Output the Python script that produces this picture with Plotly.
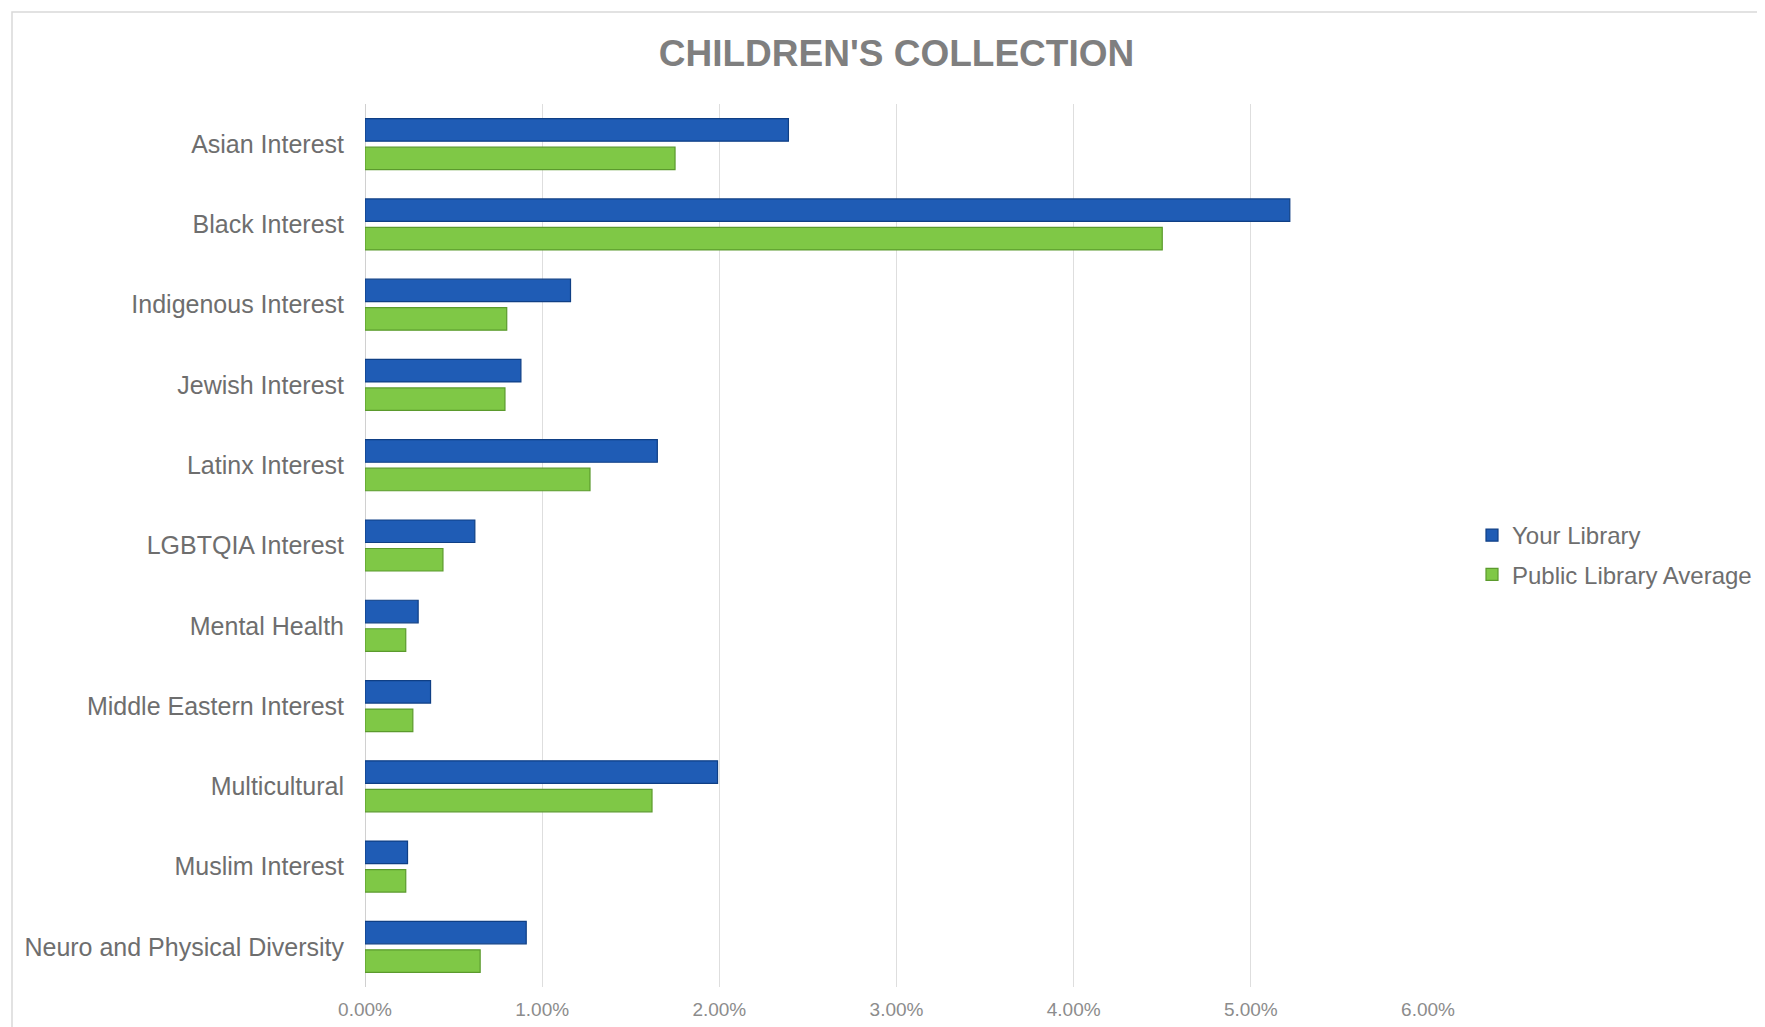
import plotly.graph_objects as go

categories = [
    "Asian Interest", "Black Interest", "Indigenous Interest", "Jewish Interest",
    "Latinx Interest", "LGBTQIA Interest", "Mental Health", "Middle Eastern Interest",
    "Multicultural", "Muslim Interest", "Neuro and Physical Diversity",
]
your_library = [0.0239, 0.0522, 0.0116, 0.0088, 0.0165, 0.0062, 0.0030, 0.0037, 0.0199, 0.0024, 0.0091]
public_average = [0.0175, 0.0450, 0.0080, 0.0079, 0.0127, 0.0044, 0.0023, 0.0027, 0.0162, 0.0023, 0.0065]
x_ticks = [0, 0.01, 0.02, 0.03, 0.04, 0.05, 0.06]
x_tick_labels = ["0.00%", "1.00%", "2.00%", "3.00%", "4.00%", "5.00%", "6.00%"]

# page body has an 8px default margin; work in page pixels and offset
OFF = 8
W, H = 1765 - OFF, 1027 - OFF
L, R, T, B = 365 - OFF, 1428 - OFF, 104 - OFF, 987 - OFF

fig = go.Figure()
fig.add_trace(go.Bar(
    y=categories, x=your_library, orientation="h", name="Your Library",
    marker=dict(color="#1f5cb5", line=dict(color="#0f3f85", width=1.2)),
    legendgroup="a",
))
fig.add_trace(go.Bar(
    y=categories, x=public_average, orientation="h", name="Public Library Average",
    marker=dict(color="#7fc846", line=dict(color="#5b9a2d", width=1.2)),
    legendgroup="b",
))

fig.update_layout(
    width=W, height=H,
    margin=dict(l=L, r=W - R, t=T, b=H - B, autoexpand=False),
    paper_bgcolor="white", plot_bgcolor="white",
    barmode="group", bargap=0.29, bargroupgap=0.21,
    font=dict(family="Liberation Sans, Arial, sans-serif", color="#6e6e6e"),
    title=dict(
        text="<b>CHILDREN'S COLLECTION</b>", x=(L + R) / 2 / W, xanchor="center",
        y=1 - (53 - OFF) / H, yanchor="middle",
        font=dict(family="Liberation Sans, Arial, sans-serif", size=37, color="#7f7f7f"),
    ),
    legend=dict(
        x=(1472 - OFF - L) / (R - L), xanchor="left",
        y=(B - (555 - OFF)) / (B - T), yanchor="middle",
        font=dict(size=24, color="#6e6e6e"),
        traceorder="grouped", tracegroupgap=5,
        bgcolor="rgba(0,0,0,0)",
    ),
    xaxis=dict(
        range=[0, 0.06], tickvals=x_ticks, ticktext=x_tick_labels,
        showgrid=True, gridcolor="#dedede", gridwidth=1.3,
        zeroline=True, zerolinecolor="#d0d0d0", zerolinewidth=1.3,
        tickfont=dict(size=19, color="#8c8c8c"), ticks="", ticklabelstandoff=9,
        showline=False, fixedrange=True,
    ),
    yaxis=dict(
        autorange="reversed", ticks="", ticklabelstandoff=20,
        tickfont=dict(size=25, color="#6e6e6e"), showgrid=False,
        showline=False, fixedrange=True,
    ),
    shapes=[dict(
        type="rect", xref="paper", yref="paper",
        x0=(12 - OFF - L) / (R - L), x1=(W + 20 - L) / (R - L),
        y0=(B - (H + 20)) / (B - T), y1=(B - (12 - OFF)) / (B - T),
        line=dict(color="#d9d9d9", width=1.5), fillcolor="rgba(0,0,0,0)", layer="below",
    )],
)

fig.write_html("out.html")
